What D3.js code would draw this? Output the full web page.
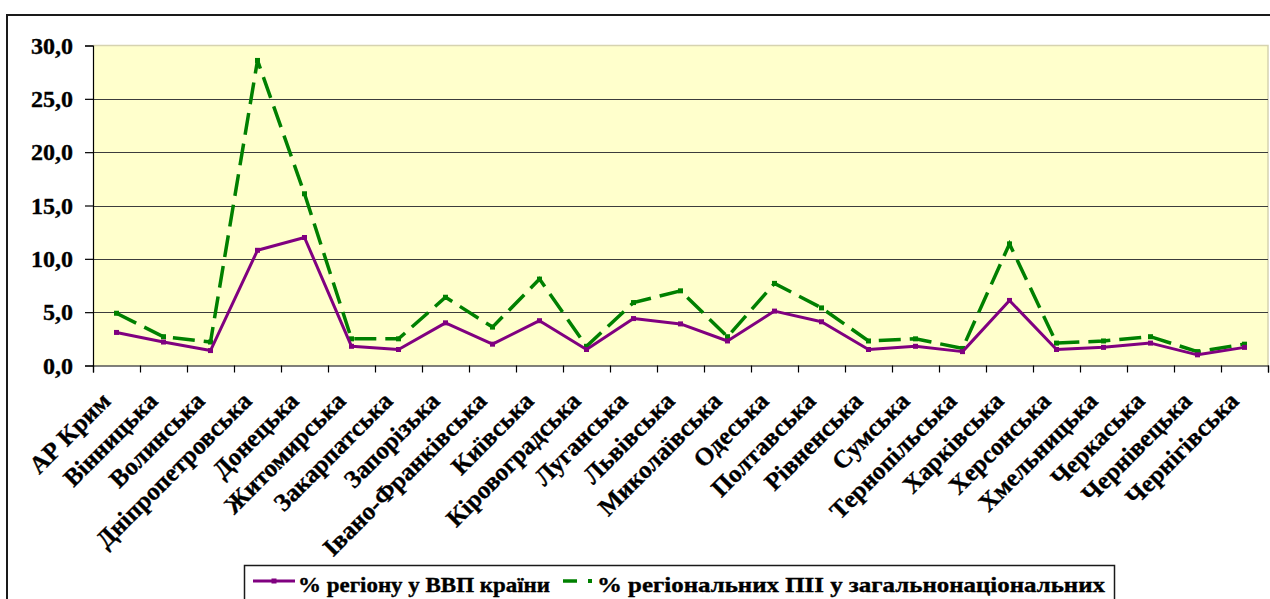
<!DOCTYPE html>
<html>
<head>
<meta charset="utf-8">
<script src="https://cdn.jsdelivr.net/npm/d3@7"></script>
<style>
  body { margin: 0; background: #fff; }
  svg text { font-family: "Liberation Serif", "Times New Roman", serif; font-weight: bold; fill: #000; stroke: #000; stroke-width: 0.35px; }
</style>
</head>
<body>
<svg id="chart" width="1270" height="599"></svg>
<script>
// Regions of Ukraine (x categories)
const regions = [
  "АР Крим", "Вінницька", "Волинська", "Дніпропетровська", "Донецька",
  "Житомирська", "Закарпатська", "Запорізька", "Івано-Франківська", "Київська",
  "Кіровоградська", "Луганська", "Львівська", "Миколаївська", "Одеська",
  "Полтавська", "Рівненська", "Сумська", "Тернопільська", "Харківська",
  "Херсонська", "Хмельницька", "Черкаська", "Чернівецька", "Чернігівська"
];

// % of the region in national GDP
const gdpShare = [3.1, 2.2, 1.4, 10.8, 12.0, 1.8, 1.5, 4.0, 2.0, 4.2,
                  1.5, 4.4, 3.9, 2.3, 5.1, 4.1, 1.5, 1.8, 1.3, 6.1,
                  1.5, 1.7, 2.1, 1.0, 1.7];

// % of regional FDI in the national total
const fdiShare = [4.9, 2.7, 2.2, 28.6, 16.1, 2.5, 2.5, 6.4, 3.6, 8.1,
                  1.8, 5.9, 7.0, 2.7, 7.7, 5.4, 2.3, 2.5, 1.6, 11.4,
                  2.1, 2.3, 2.7, 1.3, 2.0];

const yTicks = [0, 5, 10, 15, 20, 25, 30];
const seriesNames = ["% регіону у ВВП країни", "% регіональних ПІІ у загальнонаціональних"];

const plot = { left: 93, right: 1268, top: 45.5, bottom: 365.5 };

const svg = d3.select("#chart")
  .attr("font-family", "Liberation Serif, serif");

// outer chart frame
svg.append("path")
  .attr("d", "M7,605V15H1275")
  .attr("fill", "none")
  .attr("stroke", "#1a1a1a")
  .attr("stroke-width", 2);

const x = d3.scaleBand().domain(regions).range([plot.left, plot.right]);
const xEdge = d3.scaleLinear().domain([0, regions.length]).range([plot.left, plot.right]);
const y = d3.scaleLinear().domain([0, 30]).range([plot.bottom, plot.top]);
const cx = d => x(d) + x.bandwidth() / 2;

// plot area
svg.append("rect")
  .attr("x", plot.left).attr("y", plot.top)
  .attr("width", plot.right - plot.left).attr("height", plot.bottom - plot.top)
  .attr("fill", "#ffffcc");

svg.append("path")
  .attr("d", `M${plot.left},${plot.top}H${plot.right}V${plot.bottom}`)
  .attr("fill", "none")
  .attr("stroke", "#d6d3b0")
  .attr("stroke-width", 1.5);

// gridlines
svg.append("g")
  .selectAll("line")
  .data(yTicks.filter(t => t > 0 && t < 30))
  .enter().append("line")
  .attr("x1", plot.left).attr("x2", plot.right)
  .attr("y1", d => Math.round(y(d)) + 0.5).attr("y2", d => Math.round(y(d)) + 0.5)
  .attr("stroke", "#3c3c3c")
  .attr("stroke-width", 1.2);

// y axis
const yAxis = svg.append("g")
  .attr("transform", `translate(${plot.left},0)`)
  .call(d3.axisLeft(y).tickValues(yTicks).tickSize(8).tickPadding(12)
    .tickFormat(d => d3.format(".1f")(d).replace(".", ",")));
yAxis.attr("font-family", null);
yAxis.select(".domain").attr("stroke", "#000").attr("stroke-width", 1.2);
yAxis.selectAll(".tick line").attr("stroke", "#000").attr("stroke-width", 1.2);
yAxis.selectAll(".tick text")
  .style("font-size", "24px")
  .attr("fill", "#000");

// x axis (ticks between categories)
const xAxis = svg.append("g")
  .attr("transform", `translate(0,${plot.bottom})`)
  .call(d3.axisBottom(xEdge).tickValues(d3.range(regions.length + 1)).tickSize(7).tickFormat(""));
xAxis.select(".domain").attr("stroke", "#000").attr("stroke-width", 1.2);
xAxis.selectAll(".tick line").attr("stroke", "#000").attr("stroke-width", 1.2);

// rotated category labels
svg.append("g")
  .selectAll("text")
  .data(regions)
  .enter().append("text")
  .attr("transform", d => `translate(${cx(d) - 4.5},402.5) rotate(-45)`)
  .attr("text-anchor", "end")
  .style("font-size", "25px")
  .text(d => d);

// series lines
const line = d3.line()
  .x((d, i) => cx(regions[i]))
  .y(d => y(d));

svg.append("path")
  .datum(fdiShare)
  .attr("fill", "none")
  .attr("stroke", "#008000")
  .attr("stroke-width", 3.5)
  .attr("stroke-dasharray", "22,9")
  .attr("d", line);

svg.append("g")
  .selectAll("rect")
  .data(fdiShare)
  .enter().append("rect")
  .attr("x", (d, i) => cx(regions[i]) - 2.5)
  .attr("y", d => y(d) - 2.5)
  .attr("width", 5).attr("height", 5)
  .attr("fill", "#008000");

svg.append("path")
  .datum(gdpShare)
  .attr("fill", "none")
  .attr("stroke", "#800080")
  .attr("stroke-width", 3)
  .attr("stroke-linejoin", "round")
  .attr("d", line);

svg.append("g")
  .selectAll("rect")
  .data(gdpShare)
  .enter().append("rect")
  .attr("x", (d, i) => cx(regions[i]) - 2.5)
  .attr("y", d => y(d) - 2.5)
  .attr("width", 5).attr("height", 5)
  .attr("fill", "#800080");

// legend
const legend = svg.append("g");
legend.append("rect")
  .attr("x", 244.5).attr("y", 565.5)
  .attr("width", 870).attr("height", 45)
  .attr("fill", "#fff")
  .attr("stroke", "#1a1a1a")
  .attr("stroke-width", 1.5);

legend.append("line")
  .attr("x1", 253).attr("x2", 295).attr("y1", 581).attr("y2", 581)
  .attr("stroke", "#800080").attr("stroke-width", 3);
legend.append("rect")
  .attr("x", 271.5).attr("y", 578.5).attr("width", 5).attr("height", 5)
  .attr("fill", "#800080");
legend.append("text")
  .attr("x", 298).attr("y", 592)
  .attr("textLength", 252).attr("lengthAdjust", "spacingAndGlyphs")
  .style("font-size", "20px")
  .text(seriesNames[0]);

legend.append("line")
  .attr("x1", 563).attr("x2", 577).attr("y1", 581).attr("y2", 581)
  .attr("stroke", "#008000").attr("stroke-width", 3.5);
legend.append("rect")
  .attr("x", 588).attr("y", 579).attr("width", 4).attr("height", 4)
  .attr("fill", "#008000");
legend.append("text")
  .attr("x", 597).attr("y", 592)
  .attr("textLength", 508).attr("lengthAdjust", "spacingAndGlyphs")
  .style("font-size", "20px")
  .text(seriesNames[1]);
</script>
</body>
</html>
